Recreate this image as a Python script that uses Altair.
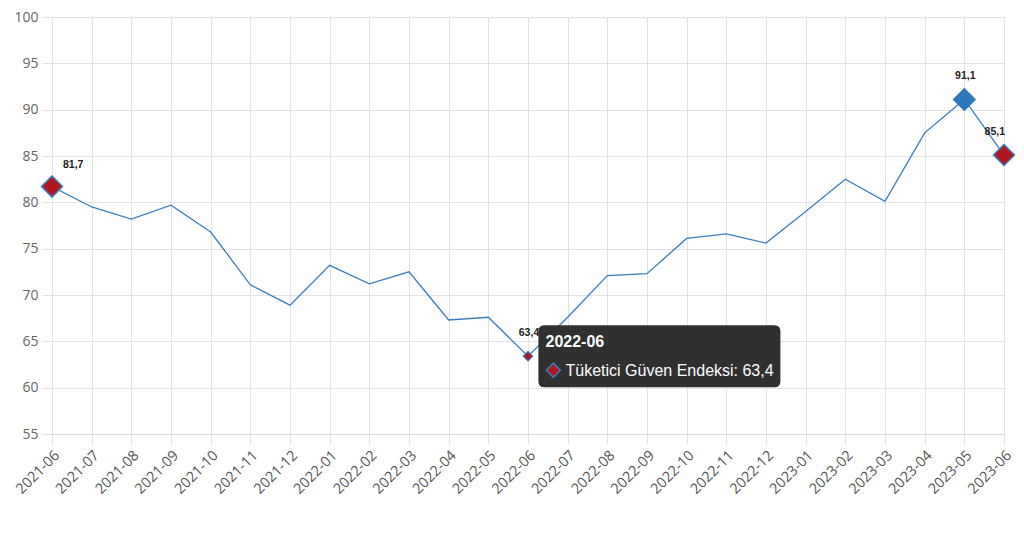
import altair as alt
import pandas as pd

months = ["2021-06", "2021-07", "2021-08", "2021-09", "2021-10", "2021-11", "2021-12",
          "2022-01", "2022-02", "2022-03", "2022-04", "2022-05", "2022-06", "2022-07",
          "2022-08", "2022-09", "2022-10", "2022-11", "2022-12", "2023-01", "2023-02",
          "2023-03", "2023-04", "2023-05", "2023-06"]
values = [81.7, 79.5, 78.2, 79.7, 76.8, 71.1, 68.9, 73.2, 71.2, 72.5, 67.3, 67.6, 63.4, 67.6,
          72.1, 72.3, 76.1, 76.6, 75.6, 79.0, 82.5, 80.1, 87.5, 91.1, 85.1]
series_name = "Tüketici Güven Endeksi"
red_markers = ["2021-06", "2023-06"]
blue_markers = ["2023-05"]
hover_month = "2022-06"
first_label = ["2021-06"]
mid_labels = ["2022-06", "2023-05"]
last_label = ["2023-06"]
y_ticks = [55, 60, 65, 70, 75, 80, 85, 90, 95, 100]

df = pd.DataFrame({"month": months, "value": values})

LINE = "#3a7fbf"
RED = "#b0161e"
GRID = "#e3e3e3"

x = alt.X("month:O", sort=months, scale=alt.Scale(type="point", padding=0),
          axis=alt.Axis(title=None, labelAngle=-45, labelFont="Open Sans", labelFontSize=14.5,
                        labelColor="#555555", grid=True, gridColor=GRID, tickColor=GRID,
                        tickSize=10, domainColor="#d6d6d6", labelPadding=4))
y = alt.Y("value:Q", scale=alt.Scale(domain=[55, 100], nice=False, zero=False),
          axis=alt.Axis(title=None, values=y_ticks, labelFont="Open Sans", labelFontSize=14,
                        labelColor="#666666", grid=True, gridColor=GRID, tickColor=GRID,
                        tickSize=10, domain=False, labelPadding=4))

base = alt.Chart(df).transform_calculate(
    label="replace(format(datum.value, '.1f'), '.', ',')"
)

line = base.mark_line(color=LINE, strokeWidth=1.3).encode(x=x, y=y)

red_pts = base.transform_filter(alt.FieldOneOfPredicate(field="month", oneOf=red_markers)).mark_point(
    shape="diamond", filled=True, fill=RED, stroke=LINE, strokeWidth=1.5, size=440, opacity=1
).encode(x=x, y=y)

blue_pts = base.transform_filter(alt.FieldOneOfPredicate(field="month", oneOf=blue_markers)).mark_point(
    shape="diamond", filled=True, fill="#2e78b7", stroke="#2e78b7", strokeWidth=1.5, size=460, opacity=1
).encode(x=x, y=y)

hover_pt = base.transform_filter(alt.datum.month == hover_month).mark_point(
    shape="diamond", filled=True, fill=RED, stroke=LINE, strokeWidth=1.2, size=90, opacity=1
).encode(x=x, y=y)

lab_style = dict(font="Liberation Sans", fontSize=10.5, fontWeight="bold", color="#222222",
                 baseline="middle")
lab_first = base.transform_filter(alt.FieldOneOfPredicate(field="month", oneOf=first_label)).mark_text(
    align="left", dx=11, dy=-22, **lab_style).encode(x=x, y=y, text="label:N")
lab_mid = base.transform_filter(alt.FieldOneOfPredicate(field="month", oneOf=mid_labels)).mark_text(
    align="center", dx=1, dy=-23, **lab_style).encode(x=x, y=y, text="label:N")
lab_last = base.transform_filter(alt.FieldOneOfPredicate(field="month", oneOf=last_label)).mark_text(
    align="right", dx=1, dy=-23, **lab_style).encode(x=x, y=y, text="label:N")

# tooltip anchored at the hovered data point
tip_base = base.transform_filter(alt.datum.month == hover_month)
box_path = ("M16.4,-31 H246.4 Q252.4,-31 252.4,-25 V25 Q252.4,31 246.4,31 "
            "H16.4 Q10.4,31 10.4,25 V-25 Q10.4,-31 16.4,-31 Z")
tip_box = tip_base.mark_point(shape=box_path, size=4, filled=True, fill="#303030",
                              opacity=1, strokeWidth=0).encode(x=x, y=y)
tip_title = tip_base.mark_text(align="left", baseline="alphabetic", dx=17.5, dy=-9,
                               font="Liberation Sans", fontSize=16, fontWeight="bold",
                               color="white").encode(x=x, y=y, text="month:N")
diamond_path = "M18.4,14 L25.4,7 L32.4,14 L25.4,21 Z"
tip_marker = tip_base.mark_point(shape=diamond_path, size=4, filled=True, fill=RED,
                                 stroke=LINE, strokeWidth=1.5, opacity=1).encode(x=x, y=y)
tip_text = tip_base.transform_calculate(
    tiptext=f"'{series_name}: ' + datum.label"
).mark_text(align="left", baseline="alphabetic", dx=37.5, dy=19.5, font="Liberation Sans",
            fontSize=16, color="white").encode(x=x, y=y, text="tiptext:N")

chart = alt.layer(
    line, red_pts, blue_pts, hover_pt, lab_first, lab_mid, lab_last,
    tip_box, tip_title, tip_marker, tip_text
).properties(
    width=952, height=417,
    autosize=alt.AutoSizeParams(type="none"),
    padding={"left": 44, "top": 9, "right": 12, "bottom": 88},
).configure_view(stroke=None)

chart.save("out.html", embed_options={"renderer": "svg", "actions": False})
